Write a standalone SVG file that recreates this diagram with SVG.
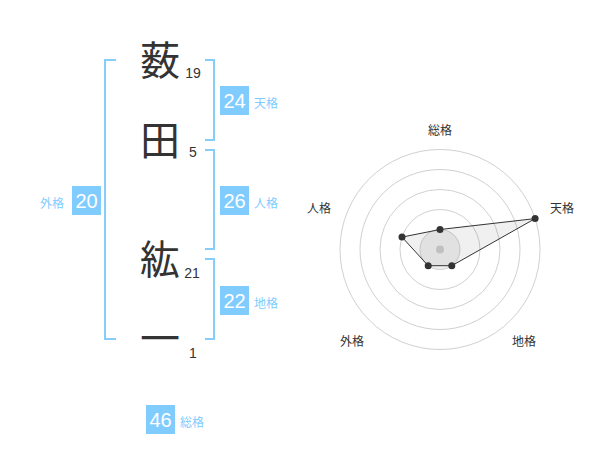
<svg xmlns="http://www.w3.org/2000/svg" width="600" height="470" viewBox="0 0 600 470">
<style>
.kanji{font-family:"Noto Sans CJK JP","Noto Sans CJK SC",sans-serif;font-size:40px;fill:#333;text-anchor:middle}
.strk{font-family:"Liberation Sans",Arial,sans-serif;font-size:14px;fill:#333;text-anchor:middle}
.brk{fill:none;stroke:#86cdf9;stroke-width:2}
.box{fill:#80ccff}
.num{font-family:"Liberation Sans",Arial,sans-serif;font-size:20px;fill:#fff;text-anchor:middle}
.lbl{font-family:"Noto Sans CJK JP","Noto Sans CJK SC",sans-serif;font-size:12px;fill:#80ccff}
.ring{fill:none;stroke:#d0d0d0;stroke-width:1}
.axl{font-family:"Noto Sans CJK JP","Noto Sans CJK SC",sans-serif;font-size:12px;fill:#333;text-anchor:middle}
.pt{fill:#333}
</style>
<rect width="600" height="470" fill="#fff"/>
<g id="chars">
<text class="kanji" x="160" y="75">薮</text>
<text class="strk" x="193" y="78">19</text>
<text class="kanji" x="160" y="155">田</text>
<text class="strk" x="193" y="157">5</text>
<text class="kanji" x="160" y="274">紘</text>
<text class="strk" x="192" y="278">21</text>
<text class="kanji" x="160" y="353">一</text>
<text class="strk" x="193" y="358">1</text>
</g>
<g id="brackets">
<path class="brk" d="M116,60 H105 V339 H116"/>
<path class="brk" d="M205,60 H214 V140 H205"/>
<path class="brk" d="M205,150 H214 V249 H205"/>
<path class="brk" d="M205,259 H214 V339 H205"/>
</g>
<g id="tenkaku">
<rect class="box" x="220" y="86" width="29" height="29"/>
<text class="num" x="234.5" y="108">24</text>
<text class="lbl" x="254" y="108">天格</text>
</g>
<g id="jinkaku">
<rect class="box" x="220" y="186" width="29" height="29"/>
<text class="num" x="234.5" y="208">26</text>
<text class="lbl" x="254" y="208">人格</text>
</g>
<g id="chikaku">
<rect class="box" x="220" y="286" width="29" height="29"/>
<text class="num" x="234.5" y="308">22</text>
<text class="lbl" x="254" y="308">地格</text>
</g>
<g id="gaikaku">
<rect class="box" x="72" y="186" width="29" height="29"/>
<text class="num" x="86.5" y="208">20</text>
<text class="lbl" x="40" y="208">外格</text>
</g>
<g id="soukaku">
<rect class="box" x="146" y="405" width="29" height="29"/>
<text class="num" x="160.5" y="427">46</text>
<text class="lbl" x="180" y="427">総格</text>
</g>
<g id="radar">
<circle cx="440" cy="249.5" r="20" fill="#f0f0f0" stroke="#d0d0d0"/>
<circle class="ring" cx="440" cy="249.5" r="40"/>
<circle class="ring" cx="440" cy="249.5" r="60"/>
<circle class="ring" cx="440" cy="249.5" r="80"/>
<circle class="ring" cx="440" cy="249.5" r="100"/>
<circle cx="440" cy="249.5" r="4" fill="#ccc"/>
<polygon points="440,229.5 535.1,218.6 451.8,265.7 428.2,265.7 402,237.1" fill="rgba(0,0,0,0.06)" stroke="#333" stroke-width="1"/>
<circle class="pt" cx="440" cy="229.5" r="3.5"/>
<circle class="pt" cx="535.1" cy="218.6" r="3.5"/>
<circle class="pt" cx="451.8" cy="265.7" r="3.5"/>
<circle class="pt" cx="428.2" cy="265.7" r="3.5"/>
<circle class="pt" cx="402" cy="237.1" r="3.5"/>
<text class="axl" x="440" y="135">総格</text>
<text class="axl" x="562" y="213">天格</text>
<text class="axl" x="319" y="213">人格</text>
<text class="axl" x="352" y="346">外格</text>
<text class="axl" x="524" y="346">地格</text>
</g>
</svg>
